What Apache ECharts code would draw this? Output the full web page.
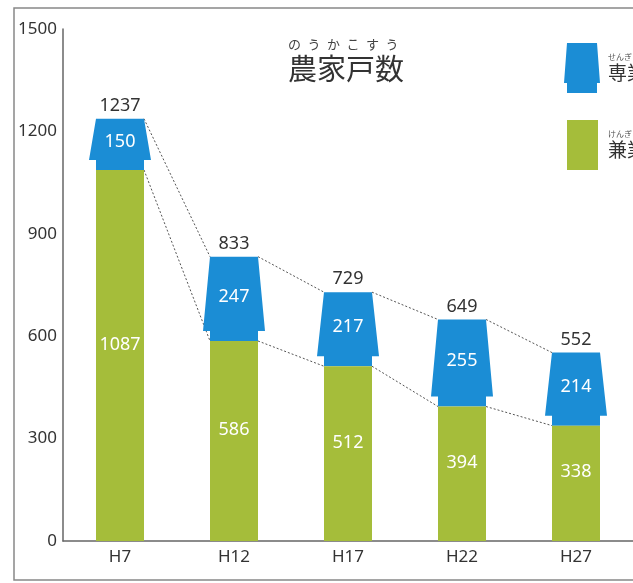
<!DOCTYPE html>
<html>
<head>
<meta charset="utf-8">
<script src="https://cdn.jsdelivr.net/npm/echarts@6/dist/echarts.min.js"></script>
<style>
  html, body { margin: 0; padding: 0; background: #fff; }
  #chart { width: 633px; height: 583px; }
</style>
</head>
<body>
<div id="chart"></div>
<script>
const categories = ["H7", "H12", "H17", "H22", "H27"];
const kengyo = [1087, 586, 512, 394, 338];   // 兼業
const sengyo = [150, 247, 217, 255, 214];    // 専業
const totals = [1237, 833, 729, 649, 552];

const BLUE = "#1b8dd5";
const GREEN = "#a5bd3a";
const NUM_FONT = "'Noto Sans', 'Open Sans', sans-serif";
const JP_FONT = "'Noto Sans CJK JP', sans-serif";
const BAR_W = 48;
const FLARE = 7;
const STEP = 10;

const ruby = { "専業": "せんぎょう", "兼業": "けんぎょう" };

const chart = echarts.init(document.getElementById("chart"));

function renderSengyo(params, api) {
  const i = api.value(0);
  const base = api.value(1);
  const top = api.value(1) + api.value(2);
  const pTop = api.coord([i, top]);
  const pBot = api.coord([i, base]);
  const x = pTop[0], y0 = pTop[1], yb = pBot[1];
  const h = BAR_W / 2;
  const children = [];
  // dotted connectors to the next bar
  if (i < categories.length - 1) {
    const nTop = api.coord([i + 1, totals[i + 1]]);
    const nBot = api.coord([i + 1, kengyo[i + 1]]);
    children.push({
      type: "line",
      shape: { x1: x + h, y1: y0, x2: nTop[0] - h, y2: nTop[1] },
      style: { stroke: "#555", lineWidth: 1, lineDash: [2, 2] }
    });
    children.push({
      type: "line",
      shape: { x1: x + h, y1: yb, x2: nBot[0] - h, y2: nBot[1] },
      style: { stroke: "#555", lineWidth: 1, lineDash: [2, 2] }
    });
  }
  children.push({
    type: "polygon",
    shape: {
      points: [
        [x - h, y0], [x + h, y0],
        [x + h + FLARE, yb - STEP], [x + h, yb - STEP],
        [x + h, yb], [x - h, yb],
        [x - h, yb - STEP], [x - h - FLARE, yb - STEP]
      ]
    },
    style: { fill: BLUE }
  });
  children.push({
    type: "text",
    style: {
      text: String(api.value(2)), x: x, y: (y0 + yb) / 2 - 2,
      align: "center", verticalAlign: "middle",
      fill: "#fff", font: "18px " + NUM_FONT
    }
  });
  children.push({
    type: "text",
    style: {
      text: String(api.value(3)), x: x, y: y0 - 13,
      align: "center", verticalAlign: "middle",
      fill: "#333", font: "18px " + NUM_FONT
    }
  });
  return { type: "group", children: children };
}

chart.setOption({
  animation: false,
  backgroundColor: "#fff",
  title: {
    text: "{r|の\u2002う\u2002か\u2002こ\u2002す\u2002う}\n{m|農家戸数}",
    left: 283,
    top: 31,
    textStyle: {
      fontWeight: "normal",
      rich: {
        r: { fontSize: 13, lineHeight: 16, color: "#444", fontWeight: "normal", fontFamily: JP_FONT },
        m: { fontSize: 29, lineHeight: 34, color: "#333", fontWeight: "normal", fontFamily: JP_FONT }
      }
    }
  },
  legend: {
    orient: "vertical",
    left: 559,
    top: 38,
    itemWidth: 36,
    itemHeight: 50,
    itemGap: 27,
    data: [
      { name: "専業", icon: "path://M3,0 L33,0 L36,40 L33,40 L33,50 L3,50 L3,40 L0,40 Z" },
      { name: "兼業", icon: "path://M0,0 M36,50 M3,0 L34,0 L34,50 L3,50 Z" }
    ],
    formatter: name => "{r|" + ruby[name] + "}\n{m|" + name + "}",
    textStyle: {
      padding: [0, 0, 0, 3],
      rich: {
        r: { fontSize: 8, lineHeight: 10, color: "#555", fontFamily: JP_FONT },
        m: { fontSize: 19, lineHeight: 22, color: "#333", fontFamily: JP_FONT }
      }
    }
  },
  graphic: [
    {
      type: "rect",
      z: -10,
      shape: { x: 14, y: 8, width: 660, height: 572 },
      style: { fill: null, stroke: "#888", lineWidth: 1.5 }
    }
  ],
  grid: { left: 63, right: -5, top: 29, bottom: 42 },
  xAxis: {
    type: "category",
    data: categories,
    axisLine: { lineStyle: { color: "#666", width: 1.5 } },
    axisTick: { inside: true, length: 13, lineStyle: { color: "#666" } },
    axisLabel: { color: "#333", fontSize: 17, margin: 8, fontFamily: NUM_FONT }
  },
  yAxis: {
    type: "value",
    min: 0,
    max: 1500,
    interval: 300,
    splitLine: { show: false },
    axisTick: { show: false },
    axisLine: { show: true, lineStyle: { color: "#666", width: 1.5 } },
    axisLabel: {
      color: "#333", fontSize: 17, margin: 6, fontFamily: NUM_FONT,
      formatter: v => String(v)
    }
  },
  series: [
    {
      name: "兼業",
      type: "bar",
      data: kengyo,
      barWidth: BAR_W,
      itemStyle: { color: GREEN },
      label: {
        show: true,
        position: "inside",
        offset: [0, -11],
        color: "#fff",
        fontSize: 18,
        fontFamily: NUM_FONT
      }
    },
    {
      name: "専業",
      type: "custom",
      itemStyle: { color: BLUE },
      clip: false,
      encode: { x: 0, y: [1, 3] },
      data: categories.map((c, i) => [i, kengyo[i], sengyo[i], totals[i]]),
      renderItem: renderSengyo
    }
  ]
});
</script>
</body>
</html>
